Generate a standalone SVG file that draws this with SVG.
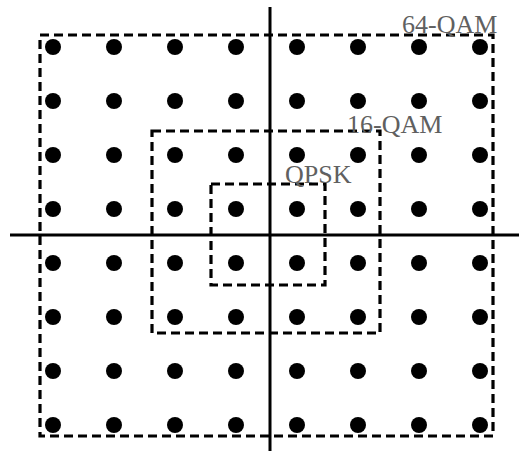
<svg xmlns="http://www.w3.org/2000/svg" width="519" height="453" viewBox="0 0 519 453">
<style>
.box{fill:none;stroke:#000;stroke-width:3.2;stroke-dasharray:9 5}
.axis{stroke:#000;stroke-width:3}
.dot{fill:#000}
.lbl{font-family:"Liberation Serif",serif;font-size:26px;fill:#606060}
</style>
<rect width="519" height="453" fill="#fff"/>
<g id="axes">
<line class="axis" x1="270" y1="7" x2="270" y2="451"/>
<line class="axis" x1="10" y1="235" x2="519" y2="235"/>
</g>
<g id="qam64">
<rect class="box" x="40" y="35" width="453" height="401"/>
<text class="lbl" x="402" y="33">64-QAM</text>
</g>
<g id="qam16">
<rect class="box" x="152" y="131" width="228" height="202"/>
<text class="lbl" x="347" y="133">16-QAM</text>
</g>
<g id="qpsk">
<rect class="box" x="211" y="184" width="114" height="101"/>
<text class="lbl" x="285" y="183">QPSK</text>
</g>
<g id="points">
<g id="r1"><circle class="dot" cx="53" cy="47" r="8"/><circle class="dot" cx="114" cy="47" r="8"/><circle class="dot" cx="175" cy="47" r="8"/><circle class="dot" cx="236" cy="47" r="8"/><circle class="dot" cx="297" cy="47" r="8"/><circle class="dot" cx="358" cy="47" r="8"/><circle class="dot" cx="419" cy="47" r="8"/><circle class="dot" cx="480" cy="47" r="8"/></g>
<g id="r2"><circle class="dot" cx="53" cy="101" r="8"/><circle class="dot" cx="114" cy="101" r="8"/><circle class="dot" cx="175" cy="101" r="8"/><circle class="dot" cx="236" cy="101" r="8"/><circle class="dot" cx="297" cy="101" r="8"/><circle class="dot" cx="358" cy="101" r="8"/><circle class="dot" cx="419" cy="101" r="8"/><circle class="dot" cx="480" cy="101" r="8"/></g>
<g id="r3"><circle class="dot" cx="53" cy="155" r="8"/><circle class="dot" cx="114" cy="155" r="8"/><circle class="dot" cx="175" cy="155" r="8"/><circle class="dot" cx="236" cy="155" r="8"/><circle class="dot" cx="297" cy="155" r="8"/><circle class="dot" cx="358" cy="155" r="8"/><circle class="dot" cx="419" cy="155" r="8"/><circle class="dot" cx="480" cy="155" r="8"/></g>
<g id="r4"><circle class="dot" cx="53" cy="209" r="8"/><circle class="dot" cx="114" cy="209" r="8"/><circle class="dot" cx="175" cy="209" r="8"/><circle class="dot" cx="236" cy="209" r="8"/><circle class="dot" cx="297" cy="209" r="8"/><circle class="dot" cx="358" cy="209" r="8"/><circle class="dot" cx="419" cy="209" r="8"/><circle class="dot" cx="480" cy="209" r="8"/></g>
<g id="r5"><circle class="dot" cx="53" cy="263" r="8"/><circle class="dot" cx="114" cy="263" r="8"/><circle class="dot" cx="175" cy="263" r="8"/><circle class="dot" cx="236" cy="263" r="8"/><circle class="dot" cx="297" cy="263" r="8"/><circle class="dot" cx="358" cy="263" r="8"/><circle class="dot" cx="419" cy="263" r="8"/><circle class="dot" cx="480" cy="263" r="8"/></g>
<g id="r6"><circle class="dot" cx="53" cy="317" r="8"/><circle class="dot" cx="114" cy="317" r="8"/><circle class="dot" cx="175" cy="317" r="8"/><circle class="dot" cx="236" cy="317" r="8"/><circle class="dot" cx="297" cy="317" r="8"/><circle class="dot" cx="358" cy="317" r="8"/><circle class="dot" cx="419" cy="317" r="8"/><circle class="dot" cx="480" cy="317" r="8"/></g>
<g id="r7"><circle class="dot" cx="53" cy="371" r="8"/><circle class="dot" cx="114" cy="371" r="8"/><circle class="dot" cx="175" cy="371" r="8"/><circle class="dot" cx="236" cy="371" r="8"/><circle class="dot" cx="297" cy="371" r="8"/><circle class="dot" cx="358" cy="371" r="8"/><circle class="dot" cx="419" cy="371" r="8"/><circle class="dot" cx="480" cy="371" r="8"/></g>
<g id="r8"><circle class="dot" cx="53" cy="425" r="8"/><circle class="dot" cx="114" cy="425" r="8"/><circle class="dot" cx="175" cy="425" r="8"/><circle class="dot" cx="236" cy="425" r="8"/><circle class="dot" cx="297" cy="425" r="8"/><circle class="dot" cx="358" cy="425" r="8"/><circle class="dot" cx="419" cy="425" r="8"/><circle class="dot" cx="480" cy="425" r="8"/></g>
</g>
</svg>
